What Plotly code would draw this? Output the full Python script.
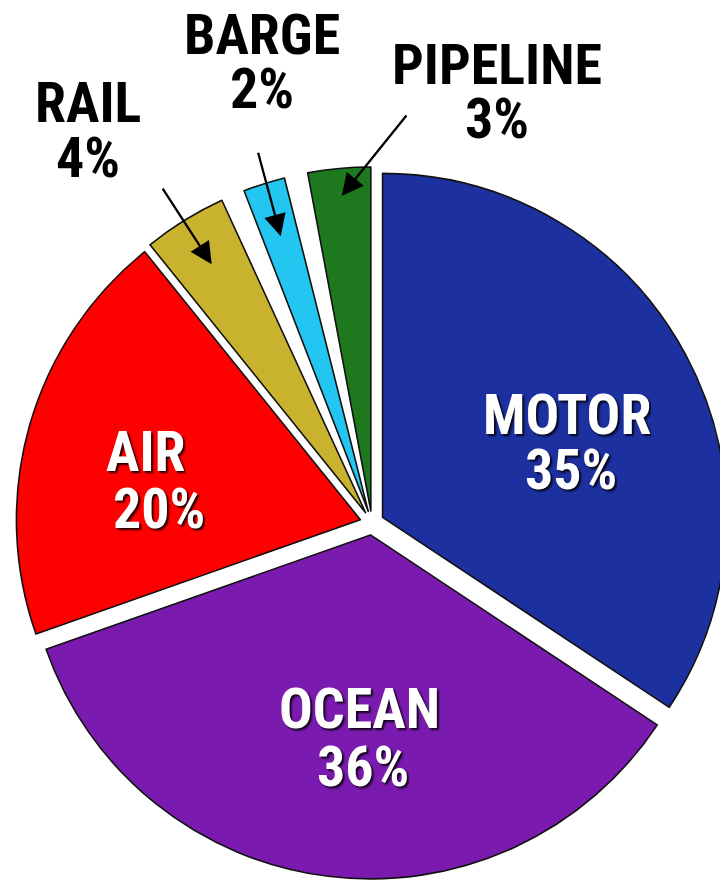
import math
import plotly.graph_objects as go

# ---- data ----
labels = ["MOTOR", "OCEAN", "AIR", "RAIL", "BARGE", "PIPELINE"]
values = [35, 36, 20, 4, 2, 3]
pct_text = ["35%", "36%", "20%", "4%", "2%", "3%"]
colors = ["#1c30a0", "#7a1aae", "#ff0000", "#c9b22e", "#22c6f0", "#1e781e"]

# ---- styling: small blank separators after RAIL and BARGE (visual gaps) ----
gap_after = [0, 0, 0, 1, 1, 0]
PULL = 0.035

pie_labels, pie_values, pie_colors, pie_pull, pie_lw = [], [], [], [], []
for i, lab in enumerate(labels):
    pie_labels.append(lab)
    pie_values.append(values[i])
    pie_colors.append(colors[i])
    pie_pull.append(PULL)
    pie_lw.append(1.6)
    if gap_after[i]:
        pie_labels.append(" " * (i + 1))
        pie_values.append(gap_after[i])
        pie_colors.append("rgba(0,0,0,0)")
        pie_pull.append(0)
        pie_lw.append(0)

# ---- layout geometry ----
BODY = 8  # default page margin around the plot div
W, H = 720, 874
ML, MR, MT, MB = 0, 0, 159, 3
DOM_X = [0.011, 1.0]
pw, ph = W - ML - MR, H - MT - MB
cx = BODY + ML + pw * (DOM_X[0] + DOM_X[1]) / 2   # page coordinates
cy = BODY + MT + ph / 2
R = min(pw * (DOM_X[1] - DOM_X[0]), ph) / (2 + 2 * max(pie_pull))

FONT = "Roboto Condensed, Liberation Sans Narrow, DejaVu Sans Condensed, sans-serif"
TEXT_DY = -2  # glyph centre vs anchor
BOX_H = 52


def to_paper(px, py):
    fx, fy = px - BODY, py - BODY
    return (fx - ML) / pw, 1 - (fy - MT) / ph


fig = go.Figure(go.Pie(
    labels=pie_labels, values=pie_values, sort=False, direction="clockwise", rotation=0,
    pull=pie_pull, textinfo="none", hoverinfo="label",
    marker=dict(colors=pie_colors, line=dict(color="#111111", width=pie_lw)),
    domain=dict(x=DOM_X, y=[0, 1]),
    showlegend=False,
))

annotations = []

# inside labels (white, shadowed): index -> (x name, y name, x pct, y pct)
inside = {
    0: (567, 417, 571, 472),
    1: (359, 711, 363, 769),
    2: (146, 454, 159, 511),
}
white_font = dict(family=FONT, size=56, color="white", weight="bold",
                  shadow="2px 2px 2px rgba(0,0,0,0.85)")
for i, (x1, y1, x2, y2) in inside.items():
    for txt, xx, yy in ((labels[i], x1, y1), (pct_text[i], x2, y2)):
        px_, py_ = to_paper(xx, yy + TEXT_DY)
        annotations.append(dict(text=txt, x=px_, y=py_, xref="paper", yref="paper",
                                xanchor="center", yanchor="middle", showarrow=False,
                                height=BOX_H, font=white_font))

# outside labels (black) with arrows: index -> (x, y name, y pct, arrow radius frac, tail dx, dy)
outside = {
    3: (88, 105, 160, 0.85, -50, -77),
    4: (262, 37, 91, 0.84, -23, -85),
    5: (497, 67, 121, 0.92, 66, -82),
}
black_font = dict(family=FONT, size=56, color="black", weight="bold")
total = sum(pie_values)
for i, (x, y1, y2, frac, tdx, tdy) in outside.items():
    for txt, yy in ((labels[i], y1), (pct_text[i], y2)):
        px_, py_ = to_paper(x, yy + TEXT_DY)
        annotations.append(dict(text=txt, x=px_, y=py_, xref="paper", yref="paper",
                                xanchor="center", yanchor="middle", showarrow=False,
                                height=BOX_H, font=black_font))
    k = pie_labels.index(labels[i])
    mid = (sum(pie_values[:k]) + pie_values[k] / 2) / total * 2 * math.pi
    rr = (pie_pull[k] + frac) * R
    hx, hy = cx + rr * math.sin(mid), cy - rr * math.cos(mid)
    ax_, ay_ = to_paper(hx, hy)
    annotations.append(dict(text="", x=ax_, y=ay_, xref="paper", yref="paper",
                            showarrow=True, ax=tdx, ay=tdy, arrowhead=2,
                            arrowsize=1.9, arrowwidth=2.3, arrowcolor="black",
                            standoff=0, startstandoff=0))

fig.update_layout(
    width=W, height=H,
    margin=dict(l=ML, r=MR, t=MT, b=MB, pad=0),
    paper_bgcolor="white", plot_bgcolor="white",
    annotations=annotations,
)

fig.write_html("out.html")
